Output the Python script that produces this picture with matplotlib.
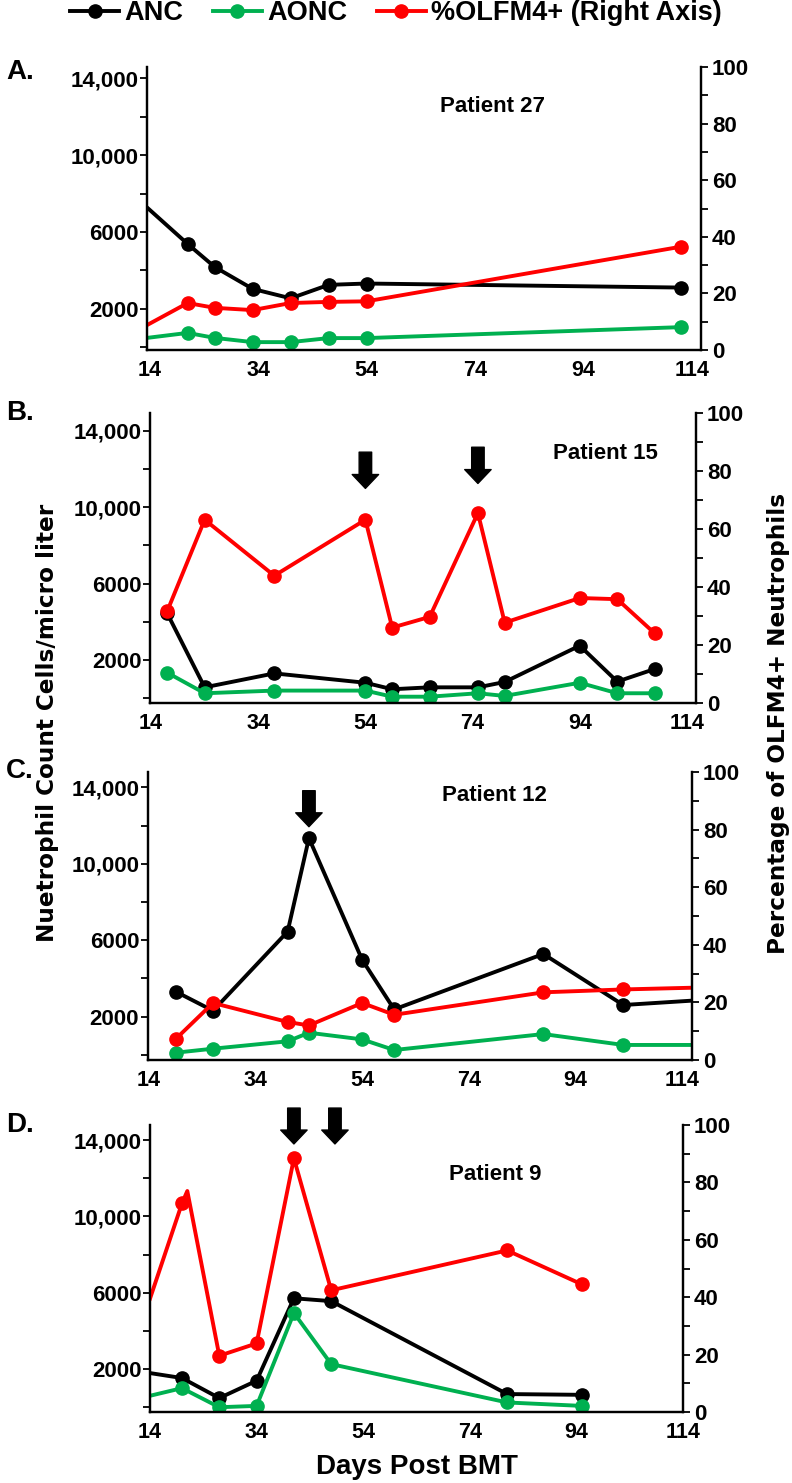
import numpy as np
import matplotlib.pyplot as plt

plt.rcParams['font.family'] = ['Liberation Sans', 'DejaVu Sans']
plt.rcParams['font.weight'] = 'bold'

W, H = 792, 1483

# Patient 27 (panel A); first point sits on the left spine, no marker
p27_days = [13.5, 21, 26, 33, 40, 47, 54, 112]
p27_anc = [7280, 5380, 4180, 3040, 2550, 3250, 3320, 3110]
p27_aonc = [490, 750, 490, 270, 270, 480, 480, 1050]
p27_olfm4 = [8.8, 16.6, 14.9, 14.1, 16.6, 17.0, 17.2, 36.5]

# Patient 15 (panel B)
p15_days = [17, 24, 37, 54, 59, 66, 75, 80, 94, 101, 108]
p15_anc = [4450, 570, 1300, 810, 470, 570, 570, 850, 2750, 870, 1530]
p15_aonc = [1340, 260, 400, 400, 80, 80, 260, 120, 810, 260, 260]
p15_olfm4 = [31.6, 63.2, 43.9, 63.2, 26.0, 29.7, 65.5, 27.7, 36.2, 35.8, 24.0]
p15_arrow_days = [54, 75]
p15_arrow_tips = [74, 75.7]

# Patient 12 (panel C); last point on the right spine, no marker
p12_days = [19, 26, 40, 44, 54, 60, 88, 103, 116]
p12_anc = [3310, 2310, 6450, 11340, 4970, 2380, 5280, 2610, 2840]
p12_aonc = [115, 325, 710, 1160, 810, 255, 1090, 520, 520]
p12_olfm4 = [7.3, 19.8, 13.2, 12.0, 19.8, 15.7, 23.5, 24.5, 25.1]
p12_arrow_days = [44]
p12_arrow_tips = [81]

# Patient 9 (panel D); first point on the left spine, no marker
p9_days = [14, 20, 27, 34, 41, 48, 81, 95]
p9_anc = [1790, 1530, 480, 1390, 5710, 5560, 690, 650]
p9_aonc = [600, 1000, 0, 70, 4940, 2260, 250, 70]
p9_olfm4_days = [14, 20, 21, 27, 34, 41, 48, 81, 95]
p9_olfm4 = [39.5, 72.7, 77.0, 19.6, 23.9, 88.4, 42.4, 56.3, 44.5]
p9_arrow_days = [41, 48.7]
p9_arrow_tips = [93.4, 93.4]

x_ticks = [14, 34, 54, 74, 94, 114]
left_major = [2000, 6000, 10000, 14000]
left_labels = ['2000', '6000', '10,000', '14,000']
left_minor = [0, 4000, 8000, 12000]

BLACK, GREEN, RED = '#000000', '#00b050', '#ff0000'

panels = [
    # letter, patient, days, anc, aonc, red days, red, anc/aonc markers, red markers,
    # arrows, arrow tips, box px (l, t, r, b), xlim, ylim, text pos, letter y
    ('A.', 'Patient 27', p27_days, p27_anc, p27_aonc, p27_days, p27_olfm4,
     slice(1, None), slice(1, None), [], [], (147, 67, 701, 350),
     (13.5, 115.7), (-140, 14590), (0.623, 0.86), 72),
    ('B.', 'Patient 15', p15_days, p15_anc, p15_aonc, p15_days, p15_olfm4,
     None, None, p15_arrow_days, p15_arrow_tips, (150, 413, 696, 703),
     (13.8, 115.7), (-250, 14930), (0.835, 0.86), 413),
    ('C.', 'Patient 12', p12_days, p12_anc, p12_aonc, p12_days, p12_olfm4,
     slice(0, 8), slice(0, 8), p12_arrow_days, p12_arrow_tips, (147.5, 772, 692, 1060),
     (13.7, 115.9), (-267, 14800), (0.638, 0.917), 771),
    ('D.', 'Patient 9', p9_days, p9_anc, p9_aonc, p9_olfm4_days, p9_olfm4,
     slice(1, None), [1, 3, 4, 5, 6, 7, 8], p9_arrow_days, p9_arrow_tips, (150, 1125, 683, 1412),
     (14, 114), (-250, 14790), (0.647, 0.826), 1125),
]

fig = plt.figure(figsize=(W / 100, H / 100), dpi=100)

handles = None
for (letter, name, days, anc, aonc, rdays, red, mk, rmk, adays, atips,
     box, xlim, ylim, tpos, ly) in panels:
    l, t, r, b = box
    ax = fig.add_axes([l / W, 1 - b / H, (r - l) / W, (b - t) / H])
    ax2 = ax.twinx()

    h1, = ax.plot(days, anc, color=BLACK, lw=2.8, marker='o', ms=9.5, markevery=mk)
    h2, = ax.plot(days, aonc, color=GREEN, lw=2.8, marker='o', ms=9.5, markevery=mk)
    h3, = ax2.plot(rdays, red, color=RED, lw=2.8, marker='o', ms=9.5, markevery=rmk)
    if handles is None:
        handles = [h1, h2, h3]

    ax.set_xlim(*xlim)
    ax.set_ylim(*ylim)
    ax2.set_ylim(0, 100)

    ax.set_xticks(x_ticks)
    ax.tick_params(axis='x', length=0, pad=7, labelsize=15.5)
    ax.set_yticks(left_major)
    ax.set_yticklabels(left_labels)
    ax.set_yticks(left_minor, minor=True)
    ax.tick_params(axis='y', which='both', direction='out', length=5, width=1.3,
                   labelsize=16, pad=1)
    ax2.set_yticks([0, 20, 40, 60, 80, 100])
    ax2.set_yticks([10, 30, 50, 70, 90], minor=True)
    ax2.tick_params(axis='y', which='both', direction='out', length=5, width=1.3,
                    labelsize=16, pad=3)

    for a in (ax, ax2):
        a.spines['top'].set_visible(False)
        for s in ('left', 'right', 'bottom'):
            a.spines[s].set_linewidth(1.6)

    for d, tip in zip(adays, atips):
        ax2.annotate('', xy=(d, tip), xytext=(d, tip + 12.5), annotation_clip=False,
                     arrowprops=dict(arrowstyle='simple,head_width=19,head_length=10,tail_width=9',
                                     mutation_scale=1, color='black', shrinkA=0, shrinkB=0))

    ax.text(tpos[0], tpos[1], name, transform=ax.transAxes, ha='center', va='center',
            fontsize=16)
    fig.text(6 / W, 1 - ly / H, letter, ha='left', va='center', fontsize=20)

fig.legend(handles, ['ANC', 'AONC', '%OLFM4+ (Right Axis)'], loc='center',
           bbox_to_anchor=(0.5, 1 - 13 / H), ncol=3, frameon=False, fontsize=19.5,
           handlelength=1.8, handletextpad=0.2, columnspacing=1.1)

fig.text(48 / W, 1 - 723 / H, 'Nuetrophil Count Cells/micro liter', rotation=90,
         ha='center', va='center', fontsize=16.7, family=['DejaVu Sans'])
fig.text(778 / W, 1 - 723 / H, 'Percentage of OLFM4+ Neutrophils', rotation=90,
         ha='center', va='center', fontsize=16.7, family=['DejaVu Sans'])
fig.text(417 / W, 1 - 1467 / H, 'Days Post BMT', ha='center', va='center', fontsize=20)

fig.savefig('out.png', dpi=100)
